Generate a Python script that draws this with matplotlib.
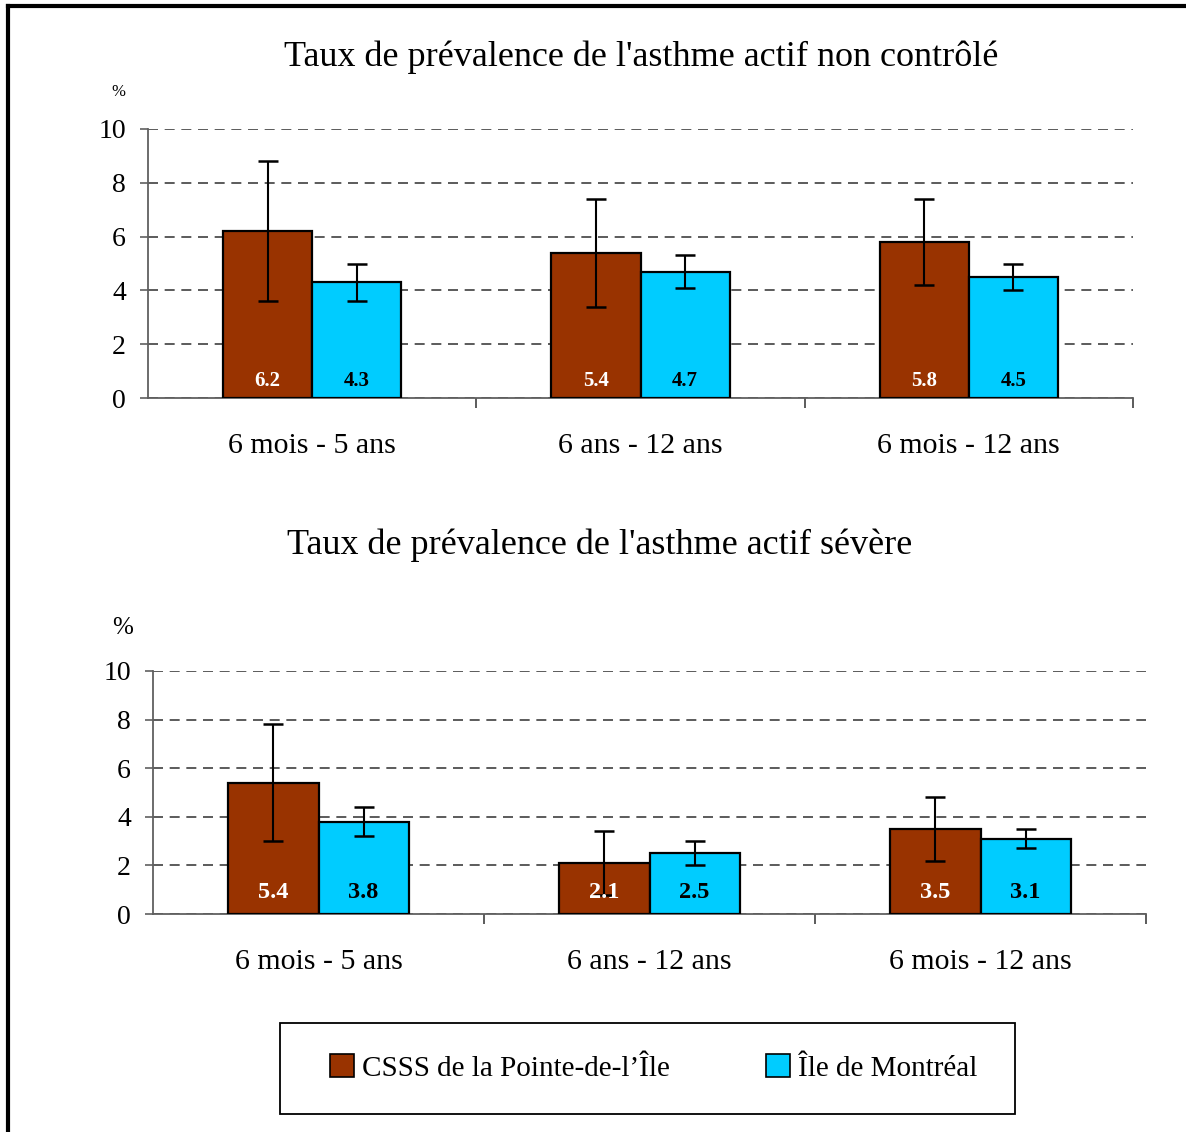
import matplotlib
matplotlib.use("Agg")
import matplotlib.pyplot as plt
from matplotlib.lines import Line2D
from matplotlib.patches import Rectangle, Patch
import numpy as np

plt.rcParams["font.family"] = ["Liberation Serif", "DejaVu Serif"]

groups = ["6 mois - 5 ans", "6 ans - 12 ans", "6 mois - 12 ans"]
series = ["CSSS de la Pointe-de-l\u2019\u00cele", "\u00cele de Montr\u00e9al"]
colors = ["#993300", "#00ccff"]
label_colors = ["white", "black"]

# chart 1: actif non contrôlé
nc_csss = [6.2, 5.4, 5.8]
nc_csss_lo = [3.6, 3.4, 4.2]
nc_csss_hi = [8.8, 7.4, 7.4]
nc_mtl = [4.3, 4.7, 4.5]
nc_mtl_lo = [3.6, 4.1, 4.0]
nc_mtl_hi = [5.0, 5.3, 5.0]

# chart 2: actif sévère
sv_csss = [5.4, 2.1, 3.5]
sv_csss_lo = [3.0, 0.8, 2.2]
sv_csss_hi = [7.8, 3.4, 4.8]
sv_mtl = [3.8, 2.5, 3.1]
sv_mtl_lo = [3.2, 2.0, 2.7]
sv_mtl_hi = [4.4, 3.0, 3.5]

title_top = "Taux de pr\u00e9valence de l'asthme actif non contr\u00f4l\u00e9"
title_bot = "Taux de pr\u00e9valence de l'asthme actif s\u00e9v\u00e8re"

W, H = 1186, 1132
fig = plt.figure(figsize=(W / 100, H / 100), dpi=100)


def fx(px):
    return px / W


def fy(py):
    return 1 - py / H


def draw(ax, vals, los, his, label_off, label_size):
    x = np.arange(len(groups))
    bw = 0.272
    for i, (v, lo, hi) in enumerate(zip(vals, los, his)):
        pos = x + (i - 0.5) * bw
        ax.bar(pos, v, bw, color=colors[i], edgecolor="black", linewidth=1.6, zorder=3)
        yerr = [np.array(v) - np.array(lo), np.array(hi) - np.array(v)]
        ax.errorbar(pos, v, yerr=yerr, fmt="none", ecolor="black", elinewidth=1.5,
                    capsize=7, capthick=1.8, zorder=4)
        for p, val in zip(pos, v):
            ax.annotate(f"{val:.1f}", (p, 0), xytext=(0, label_off), textcoords="offset pixels",
                        ha="center", va="center", fontsize=label_size, fontweight="bold",
                        color=label_colors[i], zorder=5)
    ax.set_xlim(-0.5, 2.5)
    ax.set_ylim(0, 10)
    ax.set_yticks(range(0, 11, 2))
    ax.set_xticks(x)
    ax.set_xticklabels(groups, fontsize=21.5)
    ax.set_xticks([0.5, 1.5, 2.5], minor=True)
    ax.tick_params(axis="x", which="major", length=0, pad=25)
    ax.tick_params(axis="x", which="minor", length=7, color="#404040", width=1.2)
    ax.tick_params(axis="y", length=6, color="#606060", width=1.2, labelsize=20, pad=10)
    for s in ("top", "right"):
        ax.spines[s].set_visible(False)
    for s in ("left", "bottom"):
        ax.spines[s].set_color("#606060")
        ax.spines[s].set_linewidth(1.3)
    ax.yaxis.grid(True, linestyle=(0, (6, 4)), color="#404040", linewidth=1.2, zorder=0)
    ax.set_axisbelow(True)


ax1 = fig.add_axes([fx(148), fy(398), fx(1133 - 148), (398 - 129) / H])
draw(ax1, [nc_csss, nc_mtl], [nc_csss_lo, nc_mtl_lo], [nc_csss_hi, nc_mtl_hi], 17, 15)
ax2 = fig.add_axes([fx(153), fy(914), fx(1146 - 153), (914 - 671) / H])
draw(ax2, [sv_csss, sv_mtl], [sv_csss_lo, sv_mtl_lo], [sv_csss_hi, sv_mtl_hi], 21, 17.5)

fig.text(fx(641), fy(57), title_top, ha="center", va="center", fontsize=26)
fig.text(fx(600), fy(545), title_bot, ha="center", va="center", fontsize=26)
fig.text(fx(118), fy(92), "%", ha="center", va="center", fontsize=12)
fig.text(fx(123), fy(628), "%", ha="center", va="center", fontsize=18)

# legend box
fig.patches.append(Rectangle((fx(280), fy(1114)), fx(1015 - 280), (1114 - 1023) / H,
                             transform=fig.transFigure, fill=False, edgecolor="black",
                             linewidth=1.3))
handles = [Patch(facecolor=c, edgecolor="black", linewidth=1.2) for c in colors]
fig.legend(handles, series, loc="center", bbox_to_anchor=(fx(654), fy(1068)), ncol=2,
           frameon=False, fontsize=21, handlelength=0.8, handleheight=0.8,
           handletextpad=0.3, columnspacing=3.3)

# outer frame (top and left)
fig.add_artist(Line2D([fx(8), 1], [fy(6), fy(6)], transform=fig.transFigure,
                      color="black", linewidth=3))
fig.add_artist(Line2D([fx(8), fx(8)], [0, fy(6)], transform=fig.transFigure,
                      color="black", linewidth=3))

fig.savefig("out.png", dpi=100)
